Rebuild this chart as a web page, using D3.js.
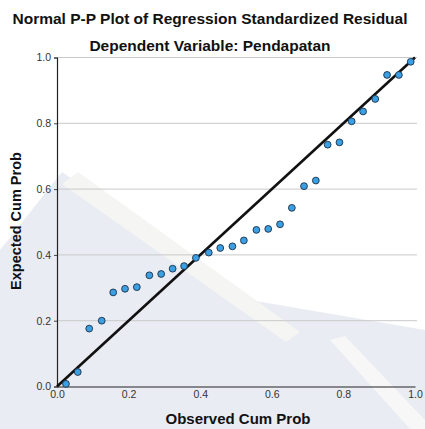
<!DOCTYPE html>
<html>
<head>
<meta charset="utf-8">
<script src="https://cdn.jsdelivr.net/npm/d3@7/dist/d3.min.js"></script>
<style>
  html, body { margin: 0; padding: 0; background: #fff; }
  svg { display: block; font-family: "Liberation Sans", Arial, sans-serif; }
</style>
</head>
<body>
<svg id="chart" width="425" height="429"></svg>
<script>
// ---- data ----
const title = "Normal P-P Plot of Regression Standardized Residual";
const subtitle = "Dependent Variable: Pendapatan";
const xLabel = "Observed Cum Prob";
const yLabel = "Expected Cum Prob";
const tickValues = [0, 0.2, 0.4, 0.6, 0.8, 1.0];
const observedCumProb = [0.025, 0.058, 0.090, 0.125, 0.157, 0.190, 0.223, 0.258, 0.291, 0.323,
                         0.355, 0.388, 0.424, 0.456, 0.490, 0.522, 0.557, 0.590, 0.623, 0.656,
                         0.690, 0.723, 0.756, 0.789, 0.823, 0.855, 0.889, 0.922, 0.955, 0.988];
const expectedCumProb = [0.008, 0.044, 0.176, 0.200, 0.286, 0.297, 0.302, 0.338, 0.342, 0.358,
                         0.366, 0.391, 0.407, 0.421, 0.426, 0.444, 0.476, 0.479, 0.493, 0.543,
                         0.609, 0.626, 0.735, 0.742, 0.806, 0.836, 0.874, 0.947, 0.947, 0.987];
const refLine = [[0, 0], [1, 1]];

(function () {
// ---- layout ----
const pL = 57, pR = 415, pT = 57.5, pB = 386.5;
const svg = d3.select("#chart");

// faint background watermark (approximation, decorative)
const wm = svg.append("g").attr("class", "watermark");
wm.append("path")
  .attr("d", "M0,250 L62,172 L250,300 L425,330 L425,429 L0,429 Z")
  .attr("fill", "#eaecf3");
wm.append("path")
  .attr("d", "M62,184 L78,172 L300,332 L286,342 Z")
  .attr("fill", "#f5f5f3");
wm.append("path")
  .attr("d", "M330,340 L345,336 L425,420 L425,429 L410,429 Z")
  .attr("fill", "#f7f7f7");

const x = d3.scaleLinear().domain([0, 1]).range([pL, pR]);
const y = d3.scaleLinear().domain([0, 1]).range([pB, pT]);

// horizontal gridlines
svg.append("g").selectAll("line")
  .data(tickValues.filter(d => d > 0))
  .join("line")
  .attr("x1", pL).attr("x2", pR + 2)
  .attr("y1", d => y(d)).attr("y2", d => y(d))
  .attr("stroke", "#c9c9c9").attr("stroke-width", 1);

// axes
const fmt = d3.format(".1f");
const yAxis = svg.append("g")
  .attr("transform", `translate(${pL},0)`)
  .call(d3.axisLeft(y).tickValues(tickValues).tickFormat(fmt).tickSize(3).tickPadding(3));
const xAxis = svg.append("g")
  .attr("transform", `translate(0,${pB})`)
  .call(d3.axisBottom(x).tickValues(tickValues).tickFormat(fmt).tickSize(0).tickPadding(4));
[xAxis, yAxis].forEach(a => {
  a.select(".domain").attr("stroke", "#222").attr("stroke-width", 1.2);
  a.selectAll(".tick line").attr("stroke", "#444");
  a.selectAll("text").attr("font-size", 10.5).attr("fill", "#333")
    .attr("font-family", "'Liberation Sans', Arial, sans-serif");
});

// reference line
svg.append("path")
  .datum(refLine)
  .attr("d", d3.line().x(d => x(d[0])).y(d => y(d[1])))
  .attr("stroke", "#111").attr("stroke-width", 2.6).attr("fill", "none");

// points
svg.append("g").selectAll("circle")
  .data(observedCumProb.map((v, i) => [v, expectedCumProb[i]]))
  .join("circle")
  .attr("cx", d => x(d[0])).attr("cy", d => y(d[1]))
  .attr("r", 3.4)
  .attr("fill", "#3b9fe3").attr("stroke", "#1c3046").attr("stroke-width", 0.9);

// titles
svg.append("text").attr("x", 210).attr("y", 24).attr("text-anchor", "middle")
  .attr("font-size", 15.5).attr("font-weight", "bold").attr("fill", "#111").text(title);
svg.append("text").attr("x", 210).attr("y", 51).attr("text-anchor", "middle")
  .attr("font-size", 15.5).attr("font-weight", "bold").attr("fill", "#111").text(subtitle);
svg.append("text").attr("x", 238).attr("y", 424).attr("text-anchor", "middle")
  .attr("font-size", 15).attr("font-weight", "bold").attr("fill", "#111").text(xLabel);
svg.append("text").attr("transform", "translate(21,221) rotate(-90)").attr("text-anchor", "middle")
  .attr("font-size", 14.5).attr("font-weight", "bold").attr("fill", "#111").text(yLabel);
})();
</script>
</body>
</html>
